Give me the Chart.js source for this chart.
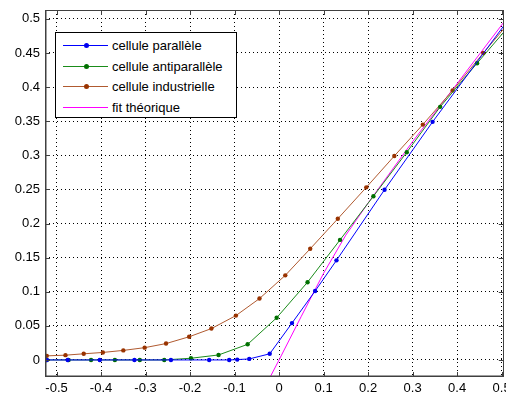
<!DOCTYPE html>
<html>
<head>
<meta charset="utf-8">
<script src="https://cdn.jsdelivr.net/npm/chart.js@4/dist/chart.umd.min.js"></script>
<style>
  body { margin: 0; background: #fff; }
  #wrap { position: relative; width: 506px; height: 398px; }
  #legend { position: absolute; left: 55px; top: 32px; width: 180px; height: 84px;
    border: 1px solid #000; background: #fff; font: 13px "Liberation Sans", Arial, sans-serif; }
  .row { position: absolute; left: 0; height: 20px; width: 100%; }
  .row .ln { position: absolute; left: 7px; width: 45px; top: 10px; height: 1px; }
  .row .dot { position: absolute; left: 28px; top: 8px; width: 5px; height: 5px; border-radius: 50%; }
  .row .tx { position: absolute; left: 56px; top: 3px; color: #000; }
</style>
</head>
<body>
<div id="wrap">
  <canvas id="c" width="506" height="398"></canvas>
  <div id="legend"></div>
</div>
<script>
// cellule parallèle
const xPar = [-0.522, -0.475, -0.403, -0.325, -0.243, -0.157, -0.112, -0.094, -0.067, -0.021, 0.029, 0.081, 0.129, 0.237, 0.345, 0.52];
const yPar = [0, 0, 0, 0, 0, 0, 0, 0.0005, 0.0015, 0.009, 0.054, 0.101, 0.146, 0.2495, 0.349, 0.503];
// cellule antiparallèle
const xAnti = [-0.522, -0.473, -0.4225, -0.369, -0.313, -0.258, -0.198, -0.136, -0.0706, -0.0054, 0.064, 0.137, 0.212, 0.287, 0.362, 0.445, 0.52];
const yAnti = [0, 0, 0, 0, 0, 0, 0.0025, 0.0073, 0.0229, 0.0618, 0.114, 0.176, 0.240, 0.3045, 0.371, 0.435, 0.492];
// cellule industrielle
const xInd = [-0.522, -0.480, -0.439, -0.396, -0.350, -0.302, -0.254, -0.202, -0.152, -0.097, -0.044, 0.014, 0.070, 0.132, 0.196, 0.259, 0.323, 0.390, 0.459, 0.52];
const yInd = [0.006, 0.007, 0.009, 0.011, 0.014, 0.018, 0.024, 0.034, 0.046, 0.065, 0.090, 0.124, 0.163, 0.207, 0.253, 0.299, 0.345, 0.395, 0.450, 0.497];
// fit théorique
const xFit = [-0.02, 0, 0.05, 0.1, 0.15, 0.2, 0.3, 0.4, 0.52];
const yFit = [-0.025, 0, 0.064, 0.127, 0.183, 0.23, 0.32, 0.405, 0.508];

const xTicks = [-0.5, -0.4, -0.3, -0.2, -0.1, 0, 0.1, 0.2, 0.3, 0.4, 0.5];
const yTicks = [0, 0.05, 0.1, 0.15, 0.2, 0.25, 0.3, 0.35, 0.4, 0.45, 0.5];

const pts = (xs, ys) => xs.map((x, i) => ({ x: x, y: ys[i] }));
const fmt = v => String(Math.round(v * 100) / 100);

const series = [
  { label: 'cellule parallèle', data: pts(xPar, yPar), line: '#0000ff', mark: '#0000ee', r: 2.2 },
  { label: 'cellule antiparallèle', data: pts(xAnti, yAnti), line: '#1a8c1a', mark: '#007000', r: 2.2 },
  { label: 'cellule industrielle', data: pts(xInd, yInd), line: '#b05a30', mark: '#993300', r: 2.2 },
  { label: 'fit théorique', data: pts(xFit, yFit), line: '#ff00ff', mark: '#ff00ff', r: 0 }
];

// inside tick marks + axes box, like matlab
const frame = {
  id: 'frame',
  afterDraw(chart) {
    const { ctx, chartArea: a, scales } = chart;
    ctx.save();
    ctx.strokeStyle = '#404040';
    ctx.lineWidth = 1;
    ctx.beginPath();
    xTicks.forEach(v => {
      const px = Math.round(scales.x.getPixelForValue(v)) + 0.5;
      ctx.moveTo(px, a.bottom); ctx.lineTo(px, a.bottom - 5);
      ctx.moveTo(px, a.top); ctx.lineTo(px, a.top + 5);
    });
    yTicks.forEach(v => {
      const py = Math.round(scales.y.getPixelForValue(v)) + 0.5;
      ctx.moveTo(a.left, py); ctx.lineTo(a.left + 5, py);
      ctx.moveTo(a.right, py); ctx.lineTo(a.right - 5, py);
    });
    ctx.stroke();
    ctx.strokeRect(Math.round(a.left) + 0.5, Math.round(a.top) + 0.5,
      Math.round(a.right - a.left) - 1, Math.round(a.bottom - a.top) - 1);
    // matlab draws the left/bottom axis a bit heavier
    ctx.beginPath();
    ctx.moveTo(Math.round(a.left) + 1.5, a.top);
    ctx.lineTo(Math.round(a.left) + 1.5, a.bottom);
    ctx.moveTo(a.left, Math.round(a.bottom) - 1.5);
    ctx.lineTo(a.right, Math.round(a.bottom) - 1.5);
    ctx.strokeStyle = 'rgba(64,64,64,0.5)';
    ctx.stroke();
    ctx.restore();
  }
};

const tickFont = { family: '"Liberation Sans", Arial, sans-serif', size: 13 };

const chart = new Chart(document.getElementById('c'), {
  type: 'scatter',
  data: {
    datasets: series.map(s => ({
      label: s.label,
      data: s.data,
      showLine: true,
      borderColor: s.line,
      borderWidth: 1,
      backgroundColor: s.mark,
      pointBackgroundColor: s.mark,
      pointBorderWidth: 0,
      pointRadius: s.r,
      pointHoverRadius: s.r,
      tension: 0
    }))
  },
  options: {
    responsive: false,
    animation: false,
    layout: { padding: { top: 10, right: 2, left: 0, bottom: 0 } },
    plugins: { legend: { display: false }, tooltip: { enabled: false } },
    scales: {
      x: {
        type: 'linear',
        min: -0.526, max: 0.505,
        afterBuildTicks: s => { s.ticks = xTicks.map(v => ({ value: v })); },
        afterFit: s => { s.height = 21; s.paddingLeft = 0; s.paddingRight = 0; },
        ticks: { callback: fmt, color: '#000', padding: 4, maxRotation: 0, autoSkip: false, font: tickFont },
        grid: { color: '#000', lineWidth: 1, drawTicks: false },
        border: { display: false, dash: [1, 3] }
      },
      y: {
        type: 'linear',
        min: -0.025, max: 0.513,
        afterBuildTicks: s => { s.ticks = yTicks.map(v => ({ value: v })); },
        afterFit: s => { s.width = 45; s.paddingTop = 0; s.paddingBottom = 0; },
        ticks: { callback: fmt, color: '#000', padding: 5, autoSkip: false, font: tickFont },
        grid: { color: '#000', lineWidth: 1, drawTicks: false },
        border: { display: false, dash: [1, 3] }
      }
    }
  },
  plugins: [frame]
});

// legend box inside the axes
const legend = document.getElementById('legend');
series.forEach((s, i) => {
  const row = document.createElement('div');
  row.className = 'row';
  row.style.top = (2 + i * 20.5) + 'px';
  row.innerHTML = '<div class="ln" style="background:' + s.line + '"></div>' +
    (s.r ? '<div class="dot" style="background:' + s.mark + '"></div>' : '') +
    '<div class="tx">' + s.label + '</div>';
  legend.appendChild(row);
});
</script>
</body>
</html>
